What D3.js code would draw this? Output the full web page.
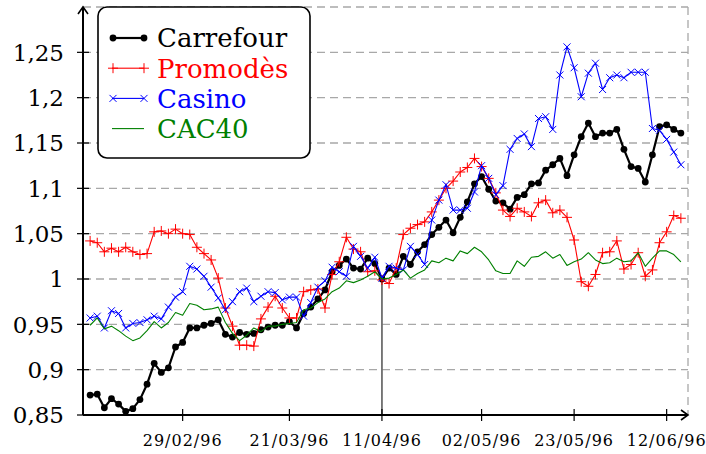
<!DOCTYPE html>
<html>
<head>
<meta charset="utf-8">
<script src="https://cdn.jsdelivr.net/npm/d3@7"></script>
<style>
  body { margin: 0; background: #fff; }
  text { font-family: "DejaVu Serif", "Liberation Serif", serif; }
</style>
</head>
<body>
<svg id="chart" width="706" height="454"></svg>
<script>
// one value per trading day, index 0 .. 83
var carrefour = [0.872, 0.873, 0.858, 0.868, 0.862, 0.854, 0.857, 0.867, 0.884, 0.907,
  0.897, 0.902, 0.925, 0.930, 0.946, 0.946, 0.949, 0.951, 0.955, 0.939,
  0.936, 0.941, 0.939, 0.940, 0.944, 0.947, 0.949, 0.949, 0.953, 0.946,
  0.962, 0.969, 0.978, 0.988, 1.008, 1.015, 1.022, 1.012, 1.011, 1.023,
  1.017, 1.000, 1.012, 1.005, 1.025, 1.016, 1.030, 1.038, 1.049, 1.057,
  1.065, 1.051, 1.068, 1.085, 1.105, 1.113, 1.099, 1.086, 1.084, 1.077,
  1.090, 1.093, 1.105, 1.106, 1.120, 1.126, 1.133, 1.114, 1.137, 1.157,
  1.172, 1.157, 1.161, 1.161, 1.165, 1.143, 1.124, 1.122, 1.107, 1.137,
  1.168, 1.170, 1.165, 1.161];

var promodes = [1.042, 1.040, 1.030, 1.034, 1.030, 1.035, 1.030, 1.027, 1.028, 1.052,
  1.053, 1.050, 1.055, 1.050, 1.049, 1.035, 1.028, 1.021, 1.001, 0.968,
  0.948, 0.927, 0.927, 0.926, 0.956, 0.969, 0.981, 0.968, 0.957, 0.957,
  0.986, 0.988, 0.989, 0.968, 1.005, 1.019, 1.046, 1.033, 1.030, 1.008,
  1.009, 0.999, 0.995, 1.012, 1.049, 1.056, 1.060, 1.063, 1.074, 1.087,
  1.100, 1.108, 1.118, 1.123, 1.133, 1.124, 1.111, 1.095, 1.076, 1.069,
  1.078, 1.074, 1.069, 1.084, 1.087, 1.073, 1.076, 1.068, 1.043, 0.997,
  0.992, 1.005, 1.029, 1.030, 1.042, 1.011, 1.016, 1.029, 1.003, 1.010,
  1.040, 1.052, 1.070, 1.067];

var casino = [0.957, 0.959, 0.946, 0.965, 0.962, 0.946, 0.951, 0.952, 0.955, 0.959,
  0.956, 0.969, 0.980, 0.986, 1.014, 1.011, 1.003, 0.991, 0.979, 0.966,
  0.975, 0.986, 0.990, 0.975, 0.981, 0.986, 0.985, 0.977, 0.980, 0.980,
  0.959, 0.974, 0.991, 0.998, 1.013, 1.008, 1.003, 1.036, 1.025, 1.012,
  1.024, 1.001, 1.014, 1.012, 1.010, 1.036, 1.027, 1.016, 1.065, 1.087,
  1.104, 1.076, 1.076, 1.078, 1.096, 1.125, 1.111, 1.093, 1.103, 1.143,
  1.155, 1.160, 1.146, 1.177, 1.179, 1.165, 1.225, 1.256, 1.233, 1.201,
  1.227, 1.238, 1.209, 1.222, 1.225, 1.222, 1.228, 1.228, 1.228, 1.166,
  1.164, 1.154, 1.140, 1.126];

var cac40 = [0.949, 0.957, 0.945, 0.948, 0.943, 0.937, 0.932, 0.935, 0.943, 0.953,
  0.946, 0.952, 0.963, 0.960, 0.973, 0.971, 0.966, 0.967, 0.969, 0.952,
  0.940, 0.932, 0.938, 0.946, 0.942, 0.948, 0.948, 0.950, 0.951, 0.952,
  0.966, 0.968, 0.974, 0.978, 0.986, 0.990, 0.998, 0.996, 0.999, 1.003,
  1.008, 1.000, 1.001, 1.005, 1.010, 1.001, 1.006, 1.010, 1.020, 1.018,
  1.023, 1.020, 1.031, 1.028, 1.035, 1.030, 1.021, 1.009, 1.006, 1.006,
  1.020, 1.014, 1.024, 1.025, 1.030, 1.023, 1.027, 1.015, 1.019, 1.022,
  1.029, 1.021, 1.017, 1.018, 1.023, 1.019, 1.020, 1.029, 1.014, 1.023,
  1.031, 1.031, 1.027, 1.019];

var seriesNames = ["Carrefour", "Promodès", "Casino", "CAC40"];
var seriesColors = ["#000000", "#ff0000", "#0000ff", "#008000"];
var seriesMarks = ["dot", "plus", "cross", "none"];

var yTicks = [0.85, 0.9, 0.95, 1, 1.05, 1.1, 1.15, 1.2, 1.25];
var xTickIndex = [13, 28, 41, 55, 68, 81];
var xTickLabels = ["29/02/96", "21/03/96", "11/04/96", "02/05/96", "23/05/96", "12/06/96"];
var refIndex = 41;   // base day, all series = 1

var svg = d3.select("#chart");

var x = d3.scaleLinear().domain([-1, 84]).range([83, 688]);
var y = d3.scaleLinear().domain([0.85, 1.3]).range([415, 7]);

var fmt = function (d) { return String(d).replace(".", ","); };

/* grid */
var grid = svg.append("g")
  .attr("stroke", "#a8a8a8")
  .attr("stroke-width", 1.3)
  .attr("stroke-dasharray", "8,5");

grid.selectAll("line.h")
  .data(yTicks.slice(1).concat([1.3]))
  .enter().append("line")
    .attr("x1", x(-1)).attr("x2", x(84))
    .attr("y1", function (d) { return y(d); })
    .attr("y2", function (d) { return y(d); });

grid.append("line")
  .attr("x1", x(84)).attr("x2", x(84))
  .attr("y1", y(1.3)).attr("y2", y(0.85));

/* reference day line */
svg.append("line")
  .attr("x1", x(refIndex)).attr("x2", x(refIndex))
  .attr("y1", y(0.85)).attr("y2", y(1))
  .attr("stroke", "#6e6e6e")
  .attr("stroke-width", 1.8);

/* series */
var allSeries = [carrefour, promodes, casino, cac40];
var line = d3.line()
  .x(function (d, i) { return x(i); })
  .y(function (d) { return y(d); });

function drawMark(g, kind, color) {
  if (kind === "dot") {
    g.append("circle").attr("r", 3.4).attr("fill", color);
  } else if (kind === "plus") {
    g.append("path").attr("d", "M-5,0H5M0,-5V5")
      .attr("stroke", color).attr("stroke-width", 1).attr("fill", "none");
  } else if (kind === "cross") {
    g.append("path").attr("d", "M-3.5,-3.5L3.5,3.5M-3.5,3.5L3.5,-3.5")
      .attr("stroke", color).attr("stroke-width", 1).attr("fill", "none");
  }
}

allSeries.forEach(function (values, k) {
  var g = svg.append("g");
  g.append("path")
    .datum(values)
    .attr("d", line)
    .attr("fill", "none")
    .attr("stroke", seriesColors[k])
    .attr("stroke-width", k === 0 ? 2.2 : 1.1)
    .attr("stroke-linejoin", "round");

  if (seriesMarks[k] !== "none") {
    g.selectAll("g.mark")
      .data(values)
      .enter().append("g")
        .attr("transform", function (d, i) { return "translate(" + x(i) + "," + y(d) + ")"; })
        .each(function () { drawMark(d3.select(this), seriesMarks[k], seriesColors[k]); });
  }
});

/* axes */
var axes = svg.append("g").attr("stroke", "#000").attr("fill", "none");

axes.append("line")
  .attr("x1", x(-1)).attr("x2", x(-1))
  .attr("y1", y(0.85)).attr("y2", y(1.3))
  .attr("stroke-width", 2);
axes.append("path")
  .attr("d", "M" + (x(-1) - 5) + "," + (y(1.3) + 7) + "L" + x(-1) + "," + y(1.3) + "L" + (x(-1) + 5) + "," + (y(1.3) + 7))
  .attr("stroke-width", 1.6);

axes.append("line")
  .attr("x1", x(-1)).attr("x2", x(84))
  .attr("y1", y(0.85)).attr("y2", y(0.85))
  .attr("stroke-width", 2);
axes.append("path")
  .attr("d", "M" + (x(84) - 7) + "," + (y(0.85) - 5) + "L" + x(84) + "," + y(0.85) + "L" + (x(84) - 7) + "," + (y(0.85) + 5))
  .attr("stroke-width", 1.6);

axes.selectAll("line.yt")
  .data(yTicks)
  .enter().append("line")
    .attr("x1", x(-1) - 6).attr("x2", x(-1) + 6)
    .attr("y1", function (d) { return y(d); })
    .attr("y2", function (d) { return y(d); })
    .attr("stroke-width", 1.2);

axes.selectAll("line.xt")
  .data(xTickIndex)
  .enter().append("line")
    .attr("x1", function (d) { return x(d); })
    .attr("x2", function (d) { return x(d); })
    .attr("y1", y(0.85) - 6).attr("y2", y(0.85) + 6)
    .attr("stroke-width", 1.2);

svg.append("g").selectAll("text")
  .data(yTicks)
  .enter().append("text")
    .attr("x", 64)
    .attr("y", function (d) { return y(d); })
    .attr("dy", "0.36em")
    .attr("text-anchor", "end")
    .attr("font-size", 23)
    .text(fmt);

svg.append("g").selectAll("text")
  .data(xTickIndex)
  .enter().append("text")
    .attr("x", function (d) { return x(d); })
    .attr("y", 446)
    .attr("text-anchor", "middle")
    .attr("font-size", 16)
    .attr("letter-spacing", 1)
    .text(function (d, i) { return xTickLabels[i]; });

/* legend */
var legend = svg.append("g").attr("transform", "translate(98,7)");
legend.append("rect")
  .attr("width", 212).attr("height", 151)
  .attr("rx", 9).attr("ry", 9)
  .attr("fill", "#fff")
  .attr("stroke", "#000")
  .attr("stroke-width", 1.6);

seriesNames.forEach(function (name, k) {
  var row = legend.append("g").attr("transform", "translate(0," + (31 + k * 30.2) + ")");
  row.append("line")
    .attr("x1", 14).attr("x2", 46)
    .attr("stroke", seriesColors[k])
    .attr("stroke-width", k === 0 ? 2.2 : 1.1);
  if (seriesMarks[k] !== "none") {
    [15, 46].forEach(function (mx) {
      drawMark(row.append("g").attr("transform", "translate(" + mx + ",0)"), seriesMarks[k], seriesColors[k]);
    });
  }
  row.append("text")
    .attr("x", 59)
    .attr("dy", "0.36em")
    .attr("font-size", 26)
    .attr("fill", seriesColors[k])
    .text(name);
});
</script>
</body>
</html>
